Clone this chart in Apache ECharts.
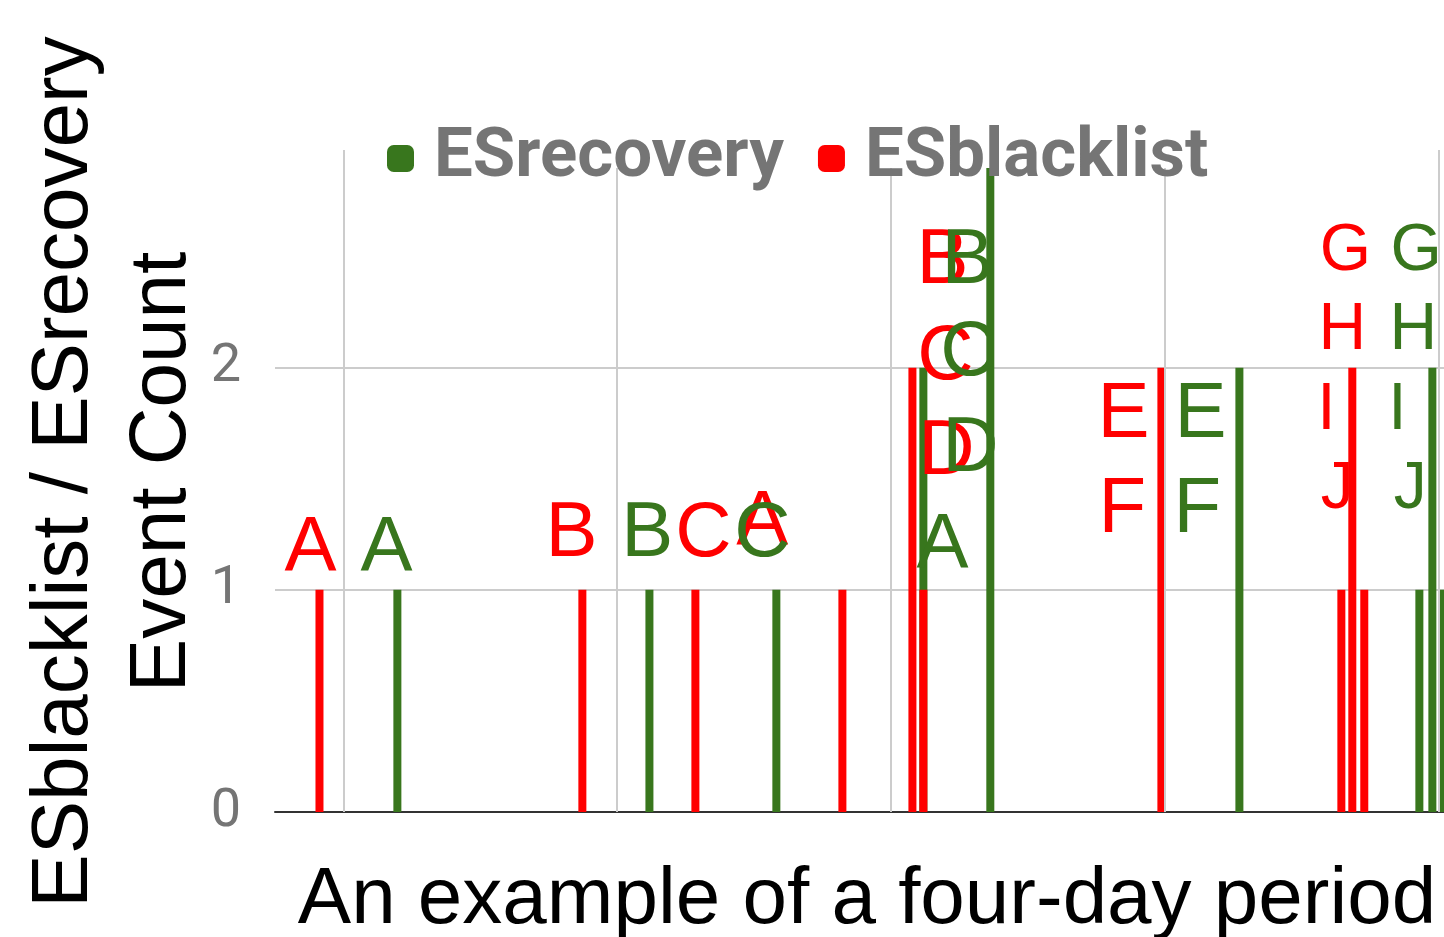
<!DOCTYPE html>
<html><head><meta charset="utf-8">
<script src="https://cdn.jsdelivr.net/npm/echarts@6/dist/echarts.min.js"></script>
<style>html,body{margin:0;padding:0;background:#fff}#c{width:1444px;height:937px}</style>
</head><body><div id="c"></div>
<script>
// x values are hours; day boundaries at 0,24,48,72,96
const dayBoundaries = [0, 24, 48, 72, 96];
const seriesNames = ['ESrecovery', 'ESblacklist'];
const blacklistHours = [-2.1, 20.95, 30.86, 43.75, 49.89, 50.85, 71.72, 87.5, 88.46, 89.51];
const blacklistCounts = [1, 1, 1, 1, 2, 1, 2, 1, 2, 1];
const recoveryHours = [4.73, 26.83, 37.96, 50.85, 56.72, 78.56, 94.34, 95.48, 96.36];
const recoveryCounts = [1, 1, 1, 2, 3, 2, 1, 2, 1];
// annotation letters: [hour, count, letter]
const blacklistTags = [[-2.89,1.205,'A'],[19.99,1.27,'B'],[31.56,1.27,'C'],[36.73,1.32,'A'],[52.52,2.502,'B'],[52.78,2.07,'C'],[52.87,1.642,'D'],[68.39,1.806,'E'],[68.3,1.378,'F']];
const blacklistTagsLate = [[87.85,2.543,'G'],[87.59,2.187,'H'],[86.18,1.829,'I'],[87.15,1.473,'J']];
const recoveryTags = [[3.77,1.205,'A'],[26.65,1.27,'B'],[36.73,1.27,'C'],[54.71,2.502,'B'],[54.8,2.086,'C'],[54.97,1.655,'D'],[52.52,1.218,'A'],[75.14,1.806,'E'],[74.87,1.378,'F']];
const recoveryTagsLate = [[94.07,2.543,'G'],[93.81,2.187,'H'],[92.41,1.829,'I'],[93.55,1.473,'J']];
const yTitle = 'ESblacklist / ESrecovery\nEvent Count';
const xTitle = 'An example of a four-day period';

const GREEN = '#38761d', RED = '#ff0000';
const chart = echarts.init(document.getElementById('c'));
const pairs = (xs, ys) => xs.map((x, i) => [x, ys[i]]);
const tagData = t => t.map(d => ({ value: [d[0], d[1]], name: d[2] }));
function tagSeries(tags, color, size) {
  return {
    type: 'scatter', data: tagData(tags), symbolSize: 0, silent: true, z: 5,
    itemStyle: { opacity: 1 },
    label: { show: true, position: 'inside', formatter: '{b}', color: color, opacity: 1, offset: [0, 5],
      fontFamily: 'Liberation Sans, Arial', fontSize: size, align: 'center', verticalAlign: 'middle' }
  };
}
chart.setOption({
  animation: false,
  backgroundColor: '#fff',
  grid: { left: 275, right: 0, top: 150, bottom: 125, containLabel: false },
  legend: {
    data: seriesNames, left: 387, top: 124, icon: 'roundRect', itemWidth: 27, itemHeight: 27, itemGap: 34,
    padding: 0, z: 8,
    textStyle: { fontFamily: 'Roboto', fontWeight: 'bold', fontSize: 69, color: '#757575', padding: [0, 0, 0, 15] }
  },
  xAxis: {
    type: 'value', min: -6, max: 96.5,
    axisLine: { show: true, lineStyle: { color: '#333', width: 2 } },
    axisTick: { show: false }, axisLabel: { show: false }, splitLine: { show: false }
  },
  yAxis: {
    type: 'value', min: 0, max: 2.98, interval: 1,
    axisLine: { show: false }, axisTick: { show: false },
    axisLabel: { fontFamily: 'Roboto', fontSize: 54, color: '#757575', margin: 34, showMaxLabel: false },
    splitLine: { showMaxLine: false, lineStyle: { color: '#cccccc', width: 2 } }
  },
  graphic: [
    { type: 'rect', z: 7, silent: true, shape: { x: 380, y: 118, width: 850, height: 50 }, style: { fill: '#fff' } },
    { type: 'text', x: 114, y: 472, rotation: Math.PI / 2, z: 10,
      style: { text: yTitle, font: '80px "Liberation Sans", Arial', fill: '#000', align: 'center', verticalAlign: 'middle', lineHeight: 98 } },
    { type: 'text', x: 867, y: 901, z: 10,
      style: { text: xTitle, font: '80px "Liberation Sans", Arial', fill: '#000', align: 'center', verticalAlign: 'middle' } }
  ],
  series: [
    { type: 'line', data: [], z: 1, silent: true,
      markLine: { silent: true, symbol: 'none', label: { show: false },
        lineStyle: { color: '#cccccc', width: 2, type: 'solid' },
        data: dayBoundaries.map(d => ({ xAxis: d })) } },
    { name: seriesNames[0], type: 'bar', data: pairs(recoveryHours, recoveryCounts), barWidth: 8, barGap: '-100%', itemStyle: { color: GREEN }, z: 2 },
    { name: seriesNames[1], type: 'bar', data: pairs(blacklistHours, blacklistCounts), barWidth: 8, barGap: '-100%', itemStyle: { color: RED }, z: 3 },
    tagSeries(blacklistTags, RED, 78),
    tagSeries(blacklistTagsLate, RED, 66),
    tagSeries(recoveryTags, GREEN, 78),
    tagSeries(recoveryTagsLate, GREEN, 66)
  ]
});
</script></body></html>
